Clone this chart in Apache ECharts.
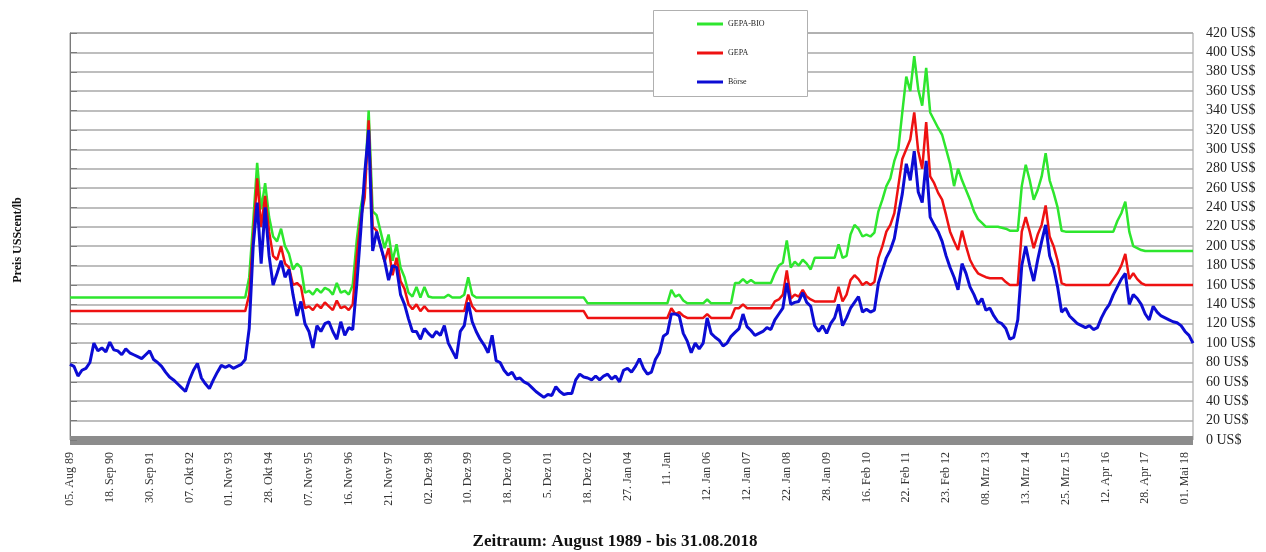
<!DOCTYPE html>
<html><head><meta charset="utf-8">
<script src="https://cdn.jsdelivr.net/npm/echarts@6/dist/echarts.min.js"></script>
<style>html,body{margin:0;padding:0;background:#fff}#c{width:1266px;height:552px}</style>
</head><body><div id="c"></div>
<script>
// x tick labels (one label every 10 samples)
const tickLabels = ["05. Aug 89","18. Sep 90","30. Sep 91","07. Okt 92","01. Nov 93","28. Okt 94","07. Nov 95","16. Nov 96","21. Nov 97","02. Dez 98","10. Dez 99","18. Dez 00","5. Dez 01","18. Dez 02","27. Jan 04","11. Jan","12. Jan 06","12. Jan 07","22. Jan 08","28. Jan 09","16. Feb 10","22. Feb 11","23. Feb 12","08. Mrz 13","13. Mrz 14","25. Mrz 15","12. Apr 16","28. Apr 17","01. Mai 18"];
const seriesNames = ["GEPA-BIO","GEPA","Börse"];
const yUnit = " US$";

const gepaBio = [
147,147,147,147,147,147,147,147,147,147,
147,147,147,147,147,147,147,147,147,147,
147,147,147,147,147,147,147,147,147,147,
147,147,147,147,147,147,147,147,147,147,
147,147,147,147,147,168,225,286,238,265,
230,210,205,218,200,192,176,182,178,152,
154,150,156,152,157,155,150,162,152,154,
150,160,206,240,262,340,236,232,215,198,
212,185,202,178,168,152,148,158,147,158,
148,147,147,147,147,150,147,147,147,150,
168,150,147,147,147,147,147,147,147,147,
147,147,147,147,147,147,147,147,147,147,
147,147,147,147,147,147,147,147,147,147,
141,141,141,141,141,141,141,141,141,141,
141,141,141,141,141,141,141,141,141,141,
141,155,148,150,144,141,141,141,141,141,
145,141,141,141,141,141,141,162,162,166,
162,165,162,162,162,162,162,172,180,183,
206,178,184,180,186,182,176,188,188,188,
188,188,188,202,188,190,212,222,218,210,
212,210,214,236,248,262,270,288,300,338,
375,360,396,362,345,384,338,330,322,315,
300,285,262,280,268,258,248,236,228,224,
220,220,220,220,219,218,216,216,216,262,
284,268,248,258,272,296,268,255,240,216,
215,215,215,215,215,215,215,215,215,215,
215,215,215,226,234,246,215,200,198,196,
195,195,195,195,195,195,195,195,195,195,
195,195,195];

const gepa = [
133,133,133,133,133,133,133,133,133,133,
133,133,133,133,133,133,133,133,133,133,
133,133,133,133,133,133,133,133,133,133,
133,133,133,133,133,133,133,133,133,133,
133,133,133,133,133,150,210,270,220,252,
215,190,186,200,182,178,160,162,158,136,
138,134,140,136,142,138,134,144,136,138,
134,140,190,228,250,330,220,216,200,184,
198,170,188,164,156,140,135,140,133,138,
133,133,133,133,133,133,133,133,133,133,
150,138,133,133,133,133,133,133,133,133,
133,133,133,133,133,133,133,133,133,133,
133,133,133,133,133,133,133,133,133,133,
126,126,126,126,126,126,126,126,126,126,
126,126,126,126,126,126,126,126,126,126,
126,136,130,132,128,126,126,126,126,126,
130,126,126,126,126,126,126,136,136,140,
136,136,136,136,136,136,136,143,145,150,
175,146,150,148,155,148,145,143,143,143,
143,143,143,158,143,150,165,170,166,160,
163,160,163,188,200,215,222,234,262,290,
300,310,338,298,280,328,272,265,255,248,
232,215,205,196,216,200,186,178,172,170,
168,167,167,167,167,163,160,160,160,215,
230,215,198,212,222,242,210,200,185,162,
160,160,160,160,160,160,160,160,160,160,
160,160,166,172,180,192,166,172,166,162,
160,160,160,160,160,160,160,160,160,160,
160,160,160];

const boerse = [
78,76,66,72,74,80,100,92,95,91,
101,93,92,88,94,90,88,86,84,88,
92,83,80,76,70,65,62,58,54,50,
62,72,79,64,58,53,62,70,77,75,
77,74,76,78,83,115,200,245,182,240,
190,160,172,185,168,176,150,128,143,120,
112,95,118,112,120,122,112,104,122,108,
116,114,160,215,275,320,195,215,200,185,
165,180,178,150,140,125,112,112,104,115,
110,106,112,108,118,100,92,84,112,118,
142,122,112,104,98,90,108,82,80,72,
67,70,63,64,60,58,54,50,47,44,
47,46,55,50,47,48,48,62,68,65,
64,62,66,62,66,68,63,66,60,72,
74,70,76,84,74,68,70,83,90,107,
110,130,130,128,110,102,90,100,94,100,
126,110,106,103,97,100,107,111,115,130,
117,113,108,110,112,116,114,124,130,136,
162,140,142,143,152,142,138,118,112,118,
110,120,126,140,118,126,136,142,148,132,
135,132,134,162,175,188,196,208,232,254,
285,268,298,256,245,288,230,222,215,205,
190,178,168,155,182,172,158,150,140,146,
134,136,128,122,120,115,104,106,124,180,
200,180,164,186,205,222,190,178,158,132,
136,128,124,120,118,116,118,114,116,126,
134,140,150,158,166,172,140,150,146,140,
130,124,138,132,128,126,124,122,121,118,
112,108,100];

const serif = "'Liberation Serif','Times New Roman',serif";
const toPairs = arr => arr.map((v, i) => [i, v]);
const lastIdx = boerse.length - 1;

const chart = echarts.init(document.getElementById('c'), null, {renderer: 'canvas'});
chart.setOption({
  animation: false,
  backgroundColor: '#ffffff',
  title: {
    text: 'Zeitraum: August 1989 - bis 31.08.2018',
    left: 610, top: 528, textAlign: 'center',
    textStyle: {fontFamily: serif, fontSize: 17, fontWeight: 'bold', color: '#111'}
  },
  grid: {left: 70, right: 73, top: 33, bottom: 112, show: true, borderColor: '#9a9a9a', borderWidth: 1, containLabel: false},
  legend: {
    orient: 'vertical', left: 697, top: 20, padding: 0,
    itemWidth: 26, itemHeight: 3, itemGap: 21, icon: 'rect',
    textStyle: {fontFamily: serif, fontSize: 8, color: '#222'},
    data: seriesNames, z: 10
  },
  graphic: [
    {type: 'rect', left: 653, top: 10, z: 5, shape: {width: 154, height: 86},
     style: {fill: '#ffffff', stroke: '#b0b0b0', lineWidth: 1}},
    {type: 'text', x: 18, y: 240, rotation: Math.PI / 2, z: 5,
     style: {text: 'Preis USScent/lb', font: 'bold 12px ' + serif, fill: '#111',
             align: 'center', verticalAlign: 'middle', textAlign: 'center', textVerticalAlign: 'middle'}}
  ],
  xAxis: {
    type: 'value', min: 0, max: lastIdx, interval: 10,
    axisLine: {show: true, onZero: true, lineStyle: {color: '#8c8c8c', width: 9, cap: 'butt'}},
    axisTick: {show: false},
    splitLine: {show: false},
    axisLabel: {
      rotate: 90, margin: 12, fontFamily: serif, fontSize: 12, color: '#333',
      showMaxLabel: false,
      formatter: v => (v % 10 === 0 && tickLabels[v / 10] !== undefined) ? tickLabels[v / 10] : ''
    }
  },
  yAxis: {
    type: 'value', position: 'right', min: 0, max: 420, interval: 20,
    axisLine: {show: true, lineStyle: {color: '#7a7a7a', width: 1}},
    axisTick: {show: true, inside: false, length: 7, lineStyle: {color: '#7a7a7a'}},
    splitLine: {show: true, lineStyle: {color: '#a8a8a8', width: 1.5}},
    axisLabel: {margin: 13, fontFamily: serif, fontSize: 14, color: '#222', formatter: v => v + yUnit}
  },
  series: [
    {name: seriesNames[0], type: 'line', data: toPairs(gepaBio), symbol: 'none', color: '#2ee62e',
     lineStyle: {width: 2.5, color: '#2ee62e'}, z: 2},
    {name: seriesNames[1], type: 'line', data: toPairs(gepa), symbol: 'none', color: '#ee1111',
     lineStyle: {width: 2.5, color: '#ee1111'}, z: 3},
    {name: seriesNames[2], type: 'line', data: toPairs(boerse), symbol: 'none', color: '#0c0cd4',
     lineStyle: {width: 3, color: '#0c0cd4'}, z: 4}
  ]
});
</script>
</body></html>
